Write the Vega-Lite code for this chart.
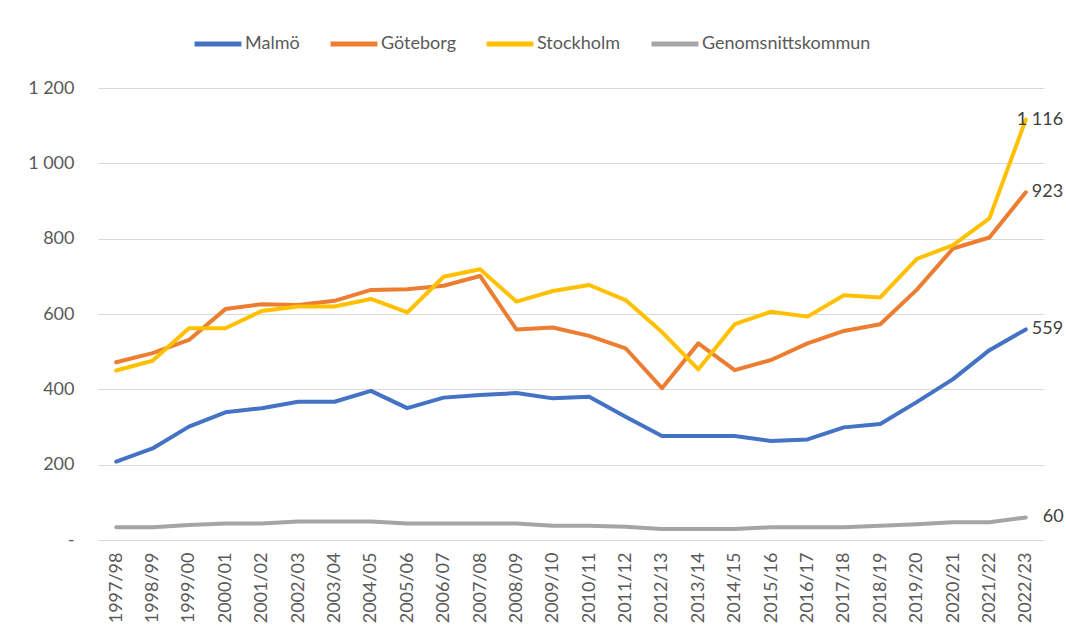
{
  "$schema": "https://vega.github.io/schema/vega-lite/v6.json",
  "width": 946,
  "height": 452,
  "autosize": {"type": "none"},
  "padding": {"left": 98, "top": 88, "right": 22, "bottom": 94},
  "background": "white",
  "config": {
    "font": "Lato",
    "view": {"stroke": null},
    "locale": {"number": {"decimal": ",", "thousands": " ", "grouping": [3], "currency": ["", " kr"]}}
  },
  "datasets": {
    "rows": [
      {"year":"1997/98","Malmö":208,"Göteborg":472,"Stockholm":450,"Genomsnittskommun":34},
      {"year":"1998/99","Malmö":243,"Göteborg":496,"Stockholm":476,"Genomsnittskommun":34},
      {"year":"1999/00","Malmö":301,"Göteborg":531,"Stockholm":562,"Genomsnittskommun":40},
      {"year":"2000/01","Malmö":339,"Göteborg":613,"Stockholm":562,"Genomsnittskommun":44},
      {"year":"2001/02","Malmö":350,"Göteborg":626,"Stockholm":608,"Genomsnittskommun":44},
      {"year":"2002/03","Malmö":367,"Göteborg":624,"Stockholm":620,"Genomsnittskommun":49},
      {"year":"2003/04","Malmö":367,"Göteborg":635,"Stockholm":620,"Genomsnittskommun":49},
      {"year":"2004/05","Malmö":396,"Göteborg":664,"Stockholm":640,"Genomsnittskommun":49},
      {"year":"2005/06","Malmö":350,"Göteborg":666,"Stockholm":604,"Genomsnittskommun":44},
      {"year":"2006/07","Malmö":378,"Göteborg":675,"Stockholm":699,"Genomsnittskommun":44},
      {"year":"2007/08","Malmö":385,"Göteborg":701,"Stockholm":719,"Genomsnittskommun":44},
      {"year":"2008/09","Malmö":390,"Göteborg":559,"Stockholm":633,"Genomsnittskommun":44},
      {"year":"2009/10","Malmö":376,"Göteborg":564,"Stockholm":661,"Genomsnittskommun":38},
      {"year":"2010/11","Malmö":380,"Göteborg":542,"Stockholm":677,"Genomsnittskommun":38},
      {"year":"2011/12","Malmö":327,"Göteborg":509,"Stockholm":637,"Genomsnittskommun":35},
      {"year":"2012/13","Malmö":276,"Göteborg":403,"Stockholm":552,"Genomsnittskommun":29},
      {"year":"2013/14","Malmö":276,"Göteborg":522,"Stockholm":453,"Genomsnittskommun":29},
      {"year":"2014/15","Malmö":276,"Göteborg":451,"Stockholm":573,"Genomsnittskommun":29},
      {"year":"2015/16","Malmö":263,"Göteborg":478,"Stockholm":606,"Genomsnittskommun":34},
      {"year":"2016/17","Malmö":267,"Göteborg":522,"Stockholm":593,"Genomsnittskommun":34},
      {"year":"2017/18","Malmö":299,"Göteborg":555,"Stockholm":650,"Genomsnittskommun":34},
      {"year":"2018/19","Malmö":308,"Göteborg":573,"Stockholm":644,"Genomsnittskommun":38},
      {"year":"2019/20","Malmö":366,"Göteborg":664,"Stockholm":746,"Genomsnittskommun":42},
      {"year":"2020/21","Malmö":427,"Göteborg":774,"Stockholm":783,"Genomsnittskommun":47},
      {"year":"2021/22","Malmö":504,"Göteborg":803,"Stockholm":854,"Genomsnittskommun":47},
      {"year":"2022/23","Malmö":559,"Göteborg":923,"Stockholm":1116,"Genomsnittskommun":60}
    ]
  },
  "data": {"name": "rows"},
  "transform": [
    {"fold": ["Malmö", "Göteborg", "Stockholm", "Genomsnittskommun"], "as": ["series", "value"]}
  ],
  "encoding": {
    "x": {
      "field": "year", "type": "ordinal", "sort": null,
      "scale": {"type": "point", "padding": 0.5},
      "axis": {"title": null, "domain": false, "ticks": false, "labelAngle": 270, "labelPadding": 12, "labelFontSize": 18, "labelColor": "#595959", "labelFont": "Lato"}
    },
    "y": {
      "field": "value", "type": "quantitative",
      "scale": {"domain": [0, 1200], "nice": false},
      "axis": {"title": null, "values": [0, 200, 400, 600, 800, 1000, 1200], "format": ",d", "labelExpr": "datum.value == 0 ? '-' : datum.label", "domain": false, "ticks": false, "labelPadding": 24, "labelFontSize": 18, "labelColor": "#595959", "gridColor": "#D9D9D9", "gridWidth": 1.2}
    }
  },
  "layer": [
    {
      "mark": {"type": "line", "strokeWidth": 4, "strokeCap": "round", "strokeJoin": "round"},
      "encoding": {
        "color": {
          "field": "series", "type": "nominal",
          "scale": {"domain": ["Malmö", "Göteborg", "Stockholm", "Genomsnittskommun"], "range": ["#4472C4", "#ED7D31", "#FFC000", "#A5A5A5"]},
          "legend": {"title": null, "orient": "none", "legendX": 94, "legendY": -70, "direction": "horizontal", "columns": 4, "symbolType": "stroke", "symbolStrokeWidth": 5, "symbolSize": 2200, "labelFontSize": 18, "labelLimit": 0, "labelColor": "#595959", "labelOffset": 1, "columnPadding": 20, "padding": 0}
        }
      }
    },
    {
      "transform": [{"filter": "datum.year == '2022/23' && (datum.series == 'Malmö' || datum.series == 'Göteborg')"}],
      "mark": {"type": "text", "align": "left", "baseline": "middle", "dx": 6, "fontSize": 18, "color": "#404040"},
      "encoding": {"text": {"field": "value", "type": "quantitative", "format": ",d"}}
    },
    {
      "transform": [{"filter": "datum.year == '2022/23' && datum.series == 'Stockholm'"}],
      "mark": {"type": "text", "align": "left", "baseline": "middle", "dx": -9, "fontSize": 18, "color": "#404040"},
      "encoding": {"text": {"field": "value", "type": "quantitative", "format": ",d"}}
    },
    {
      "transform": [{"filter": "datum.year == '2022/23' && datum.series == 'Genomsnittskommun'"}],
      "mark": {"type": "text", "align": "left", "baseline": "middle", "dx": 17, "fontSize": 18, "color": "#404040"},
      "encoding": {"text": {"field": "value", "type": "quantitative", "format": ",d"}}
    }
  ]
}
